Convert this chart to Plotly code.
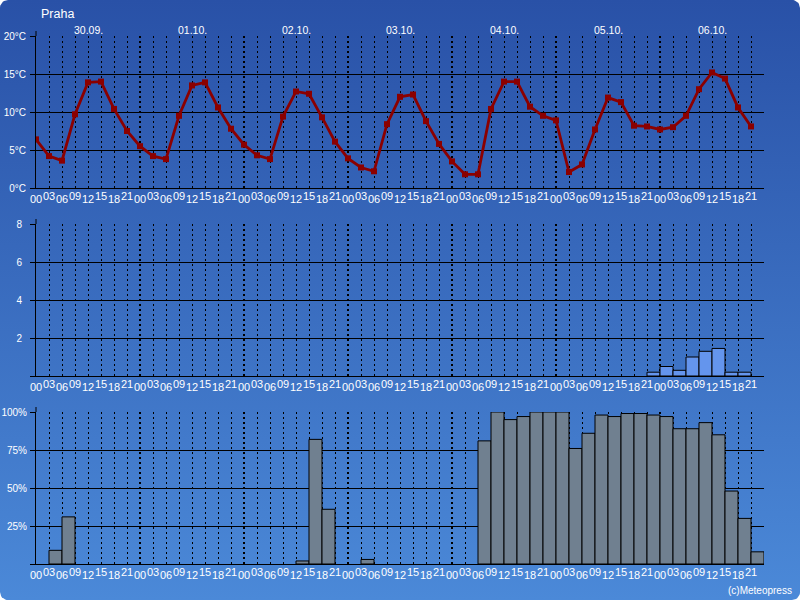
import numpy as np
import plotly.graph_objects as go

# ---------------- data ----------------
LOCATION = "Praha"
COPYRIGHT = "(c)Meteopress"
DAYS = ["30.09.", "01.10.", "02.10.", "03.10.", "04.10.", "05.10.", "06.10."]
HOURS = ["00", "03", "06", "09", "12", "15", "18", "21"]

TEMP = [6.4, 4.2, 3.6, 9.7, 13.9, 14.0, 10.4, 7.5,
        5.5, 4.2, 3.8, 9.5, 13.5, 13.9, 10.6, 7.8,
        5.7, 4.3, 3.8, 9.4, 12.7, 12.4, 9.3, 6.1,
        3.9, 2.7, 2.2, 8.4, 12.0, 12.3, 8.8, 5.8,
        3.5, 1.8, 1.8, 10.4, 14.0, 14.0, 10.7, 9.5,
        8.9, 2.1, 3.1, 7.7, 11.9, 11.3, 8.2, 8.1,
        7.7, 8.0, 9.5, 13.0, 15.2, 14.4, 10.6, 8.1]

PRECIP = [0, 0, 0, 0, 0, 0, 0, 0,
          0, 0, 0, 0, 0, 0, 0, 0,
          0, 0, 0, 0, 0, 0, 0, 0,
          0, 0, 0, 0, 0, 0, 0, 0,
          0, 0, 0, 0, 0, 0, 0, 0,
          0, 0, 0, 0, 0, 0, 0, 0.2,
          0.5, 0.3, 1.0, 1.3, 1.45, 0.2, 0.2, 0]

CLOUD = [0, 9, 31, 0, 0, 0, 0, 0,
         0, 0, 0, 0, 0, 0, 0, 0,
         0, 0, 0, 0, 2, 82, 36, 0,
         0, 3, 0, 0, 0, 0, 0, 0,
         0, 0, 81, 100, 95, 97, 100, 100,
         100, 76, 86, 98, 97, 99, 99, 98,
         97, 89, 89, 93, 85, 48, 30, 8]

TEMP_TICKS = [0, 5, 10, 15, 20]
TEMP_LABELS = ["0°C", "5°C", "10°C", "15°C", "20°C"]
PRECIP_TICKS = [0, 2, 4, 6, 8]
PRECIP_LABELS = ["", "2", "4", "6", "8"]
CLOUD_TICKS = [0, 25, 50, 75, 100]
CLOUD_LABELS = ["", "25%", "50%", "75%", "100%"]

# ---------------- layout geometry ----------------
W, H = 800, 600
LEFT, RIGHT = 36, 764
PANEL_H = 152
PANEL_TOPS = [36, 224, 412]
FONT = "Liberation Sans, Arial, sans-serif"
TXT = "white"
BG_TOP = "#2951a7"
BG_BOTTOM = "#4b89d8"

n = len(TEMP)
idx = list(range(n))
hour_labels = [HOURS[i % 8] for i in idx]


def ydom(top):
    return [(H - top - PANEL_H) / H, (H - top) / H]


fig = go.Figure()

# background rounded rectangle with vertical gradient
r = 8
pts = []
for cx, cy, a0 in [(W - r, r, -90), (W - r, H - r, 0), (r, H - r, 90), (r, r, 180)]:
    a = np.radians(np.linspace(a0, a0 + 90, 10))
    pts += list(zip(cx + r * np.cos(a), cy + r * np.sin(a)))
bx = [p[0] for p in pts] + [pts[0][0]]
by = [p[1] for p in pts] + [pts[0][1]]
fig.add_trace(go.Scatter(
    x=bx, y=by, mode="lines", fill="toself", line=dict(width=0),
    fillgradient=dict(type="vertical", colorscale=[[0, BG_BOTTOM], [1, BG_TOP]]),
    hoverinfo="skip", showlegend=False, xaxis="x", yaxis="y"))

# temperature
fig.add_trace(go.Scatter(
    x=idx, y=TEMP, mode="lines+markers",
    line=dict(color="#8b0000", width=2.8),
    marker=dict(symbol="square", size=6, color="#8b0000"),
    showlegend=False, xaxis="x2", yaxis="y2"))

# precipitation
fig.add_trace(go.Bar(
    x=idx, y=[v if v > 0 else None for v in PRECIP], width=1, offset=0,
    marker=dict(color="#6495ed", line=dict(color="black", width=1)),
    showlegend=False, xaxis="x3", yaxis="y3"))

# cloud cover
fig.add_trace(go.Bar(
    x=idx, y=[v if v > 0 else None for v in CLOUD], width=1, offset=0,
    marker=dict(color="#708090", line=dict(color="black", width=1)),
    showlegend=False, xaxis="x4", yaxis="y4"))

xdom = [LEFT / W, RIGHT / W]
xcommon = dict(
    domain=xdom, range=[0, n], showline=True, linecolor="black", linewidth=1,
    showticklabels=False, ticks="", zeroline=False, automargin=False,
    tick0=0, dtick=8, showgrid=True, gridcolor="black", gridwidth=2,
    griddash="2px,3px",
    minor=dict(tick0=0, dtick=1, showgrid=True, gridcolor="black",
               gridwidth=1, griddash="2px,3px", ticks=""),
    fixedrange=True)

ycommon = dict(
    showline=True, linecolor="black", linewidth=1, ticks="outside",
    ticklen=5, tickcolor="black", showgrid=True, gridcolor="black",
    gridwidth=1, zeroline=False, tickmode="array", automargin=False,
    tickfont=dict(family=FONT, size=10, color=TXT), fixedrange=True)

layout = dict(
    width=W, height=H, margin=dict(l=0, r=0, t=0, b=0, pad=0, autoexpand=False),
    paper_bgcolor="white", plot_bgcolor="rgba(0,0,0,0)",
    showlegend=False, bargap=0,
    xaxis=dict(domain=[0, 1], range=[0, W], visible=False, fixedrange=True,
               automargin=False),
    yaxis=dict(domain=[0, 1], range=[0, H], visible=False, fixedrange=True,
               automargin=False),
)
ranges = [[0, 20], [0, 8], [0, 100]]
ticks = [(TEMP_TICKS, TEMP_LABELS), (PRECIP_TICKS, PRECIP_LABELS),
         (CLOUD_TICKS, CLOUD_LABELS)]
standoffs = [2, 6, 1]
for k in range(3):
    xa = "xaxis%d" % (k + 2)
    ya = "yaxis%d" % (k + 2)
    layout[xa] = dict(xcommon, anchor="y%d" % (k + 2))
    layout[ya] = dict(ycommon, domain=ydom(PANEL_TOPS[k]), range=ranges[k],
                      anchor="x%d" % (k + 2), tickvals=ticks[k][0],
                      ticktext=ticks[k][1], ticklabelstandoff=standoffs[k])
fig.update_layout(**layout)

annotations = []
shapes = []
for k in range(3):
    xr = "x%d" % (k + 2)
    yr = "y%d domain" % (k + 2)
    for i, lbl in enumerate(hour_labels):
        annotations.append(dict(
            x=i, y=0, xref=xr, yref=yr, text=lbl, showarrow=False,
            xanchor="center", yanchor="middle",
            yshift=-8 if i % 2 else -11,
            font=dict(family=FONT, size=11, color=TXT)))
    shapes.append(dict(type="line", xref="x%d domain" % (k + 2), yref=yr,
                       x0=0, x1=0, y0=1, y1=1 + 5 / PANEL_H,
                       line=dict(color="black", width=1)))

for d, day in enumerate(DAYS):
    annotations.append(dict(
        x=d * 8 + 4, y=(H - 30) / H, xref="x2", yref="paper", text=day,
        showarrow=False, xanchor="center", yanchor="middle",
        font=dict(family=FONT, size=10.5, color=TXT)))

annotations.append(dict(
    x=39 / W, y=(H - 14) / H, xref="paper", yref="paper", text=LOCATION,
    showarrow=False, xanchor="left", yanchor="middle",
    font=dict(family=FONT, size=12.5, color=TXT)))
annotations.append(dict(
    x=794 / W, y=(H - 590) / H, xref="paper", yref="paper", text=COPYRIGHT,
    showarrow=False, xanchor="right", yanchor="middle",
    font=dict(family=FONT, size=10, color=TXT)))

fig.update_layout(annotations=annotations, shapes=shapes)
fig.write_html(
    "out.html",
    config={"displayModeBar": False, "staticPlot": True},
    post_script="document.body.style.margin='0';"
                "document.body.style.overflow='hidden';")
